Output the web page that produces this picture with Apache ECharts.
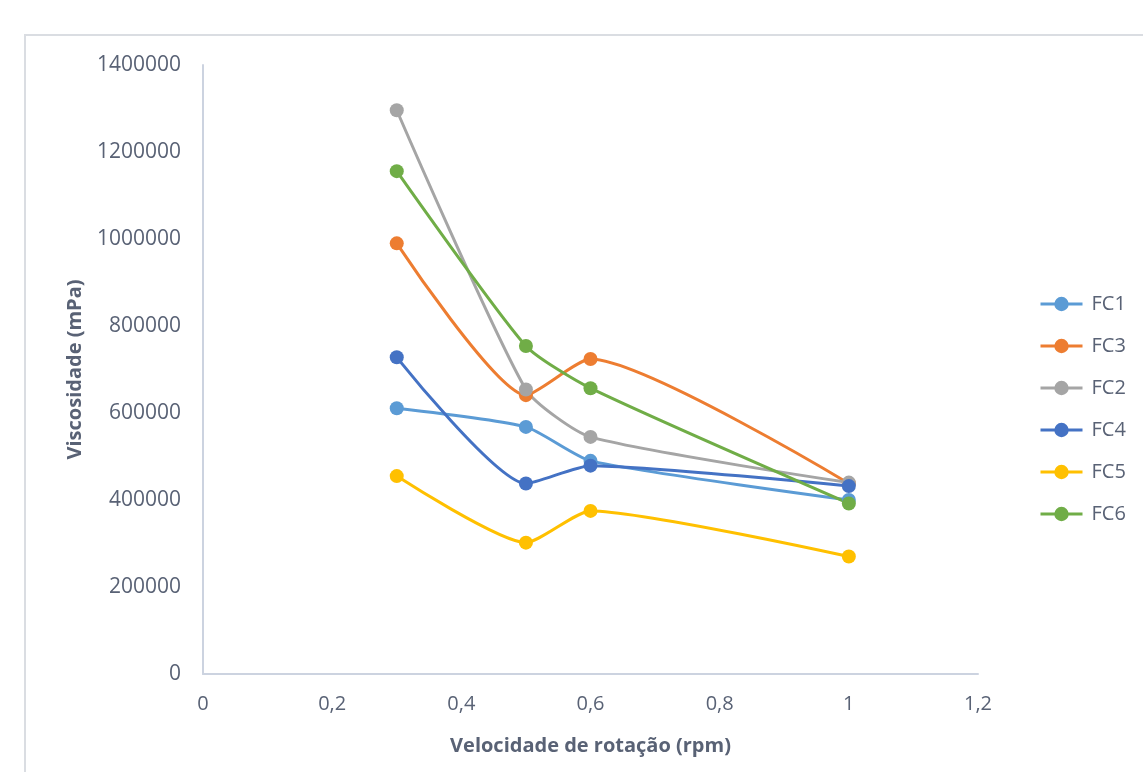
<!DOCTYPE html>
<html><head><meta charset="utf-8">
<script src="https://cdn.jsdelivr.net/npm/echarts@6/dist/echarts.min.js"></script>
<style>html,body{margin:0;padding:0;background:#fff}#c{width:1143px;height:772px}</style>
</head><body><div id="c"></div>
<script>
const xValues = [0.3, 0.5, 0.6, 1.0];
const seriesNames = ['FC1', 'FC3', 'FC2', 'FC4', 'FC5', 'FC6'];
const FC1 = [611000, 568000, 490000, 400000];
const FC3 = [990000, 641000, 724000, 438000];
const FC2 = [1296000, 654000, 545000, 440000];
const FC4 = [728000, 438000, 479000, 432000];
const FC5 = [455000, 302000, 375000, 270000];
const FC6 = [1156000, 754000, 657000, 392000];
const seriesValues = [FC1, FC3, FC2, FC4, FC5, FC6];
const colors = ['#5B9BD5', '#ED7D31', '#A5A5A5', '#4472C4', '#FFC000', '#70AD47'];
const xTitle = 'Velocidade de rotação (rpm)';
const yTitle = 'Viscosidade (mPa)';

const font = '"Open Sans", sans-serif';
const txt = '#596275';
const chart = echarts.init(document.getElementById('c'));
chart.setOption({
  animation: false,
  graphic: [{
    type: 'rect', silent: true, z: -1,
    shape: {x: 25, y: 35, width: 1200, height: 800},
    style: {fill: 'none', stroke: '#dadde2', lineWidth: 2}
  }],
  grid: {left: 203, top: 65, right: 165, bottom: 98},
  legend: {
    orient: 'vertical', left: 1034, top: 289, itemGap: 22,
    itemWidth: 42, itemHeight: 18,
    lineStyle: {width: 3},
    textStyle: {fontFamily: font, fontSize: 20, color: txt, padding: [0,0,0,4]},
    data: seriesNames
  },
  xAxis: {
    type: 'value', min: 0, max: 1.2, interval: 0.2,
    name: xTitle, nameLocation: 'middle', nameGap: 62,
    nameTextStyle: {fontFamily: font, fontSize: 20, fontWeight: 'bold', color: txt},
    axisLine: {show: true, lineStyle: {color: '#ccd3e0', width: 2}},
    axisTick: {show: false}, splitLine: {show: false},
    axisLabel: {fontFamily: font, fontSize: 20, color: txt, margin: 20,
      formatter: v => String(+v.toFixed(1)).replace('.', ',')}
  },
  yAxis: {
    type: 'value', min: 0, max: 1400000, interval: 200000,
    name: yTitle, nameLocation: 'middle', nameGap: 118,
    nameTextStyle: {fontFamily: font, fontSize: 20, fontWeight: 'bold', color: txt},
    axisLine: {show: true, lineStyle: {color: '#ccd3e0', width: 2}},
    axisTick: {show: false}, splitLine: {show: false},
    axisLabel: {fontFamily: font, fontSize: 21, color: txt, margin: 22,
      formatter: v => String(v)}
  },
  series: seriesNames.map((n, i) => ({
    name: n, type: 'line', smooth: 0.2,
    data: xValues.map((x, j) => [x, seriesValues[i][j]]),
    symbol: 'circle', symbolSize: 14,
    itemStyle: {color: colors[i]},
    lineStyle: {color: colors[i], width: 3}
  }))
});
</script></body></html>
